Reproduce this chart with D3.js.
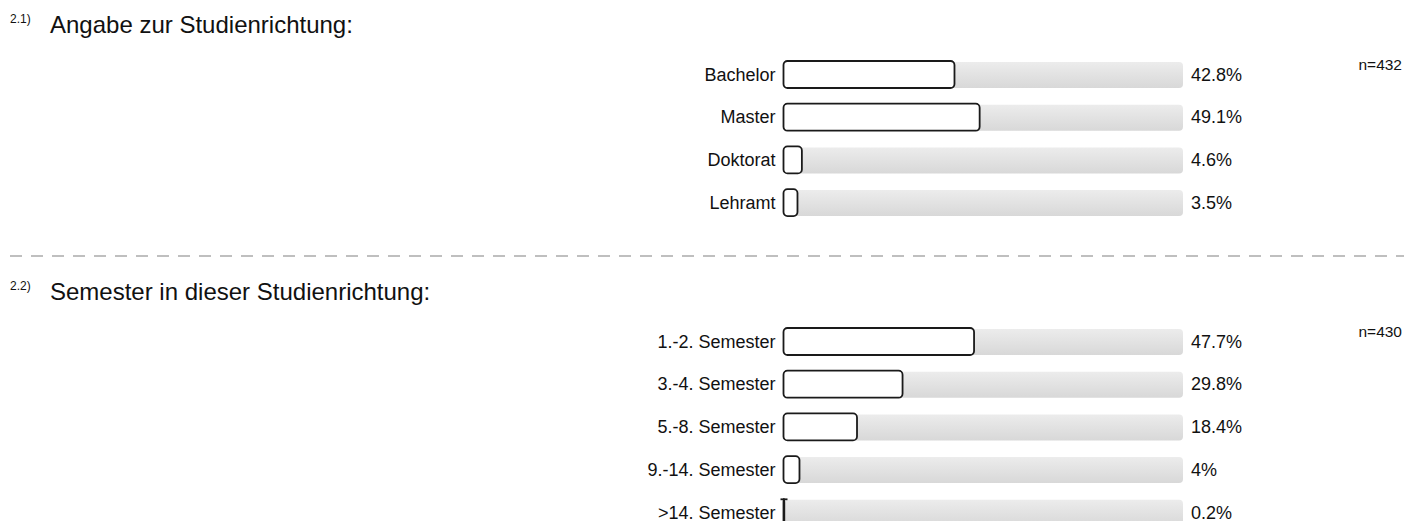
<!DOCTYPE html>
<html>
<head>
<meta charset="utf-8">
<script src="https://cdn.jsdelivr.net/npm/d3@7"></script>
<style>
  body { margin: 0; background: #fff; }
  svg { font-family: "Liberation Sans", Arial, sans-serif; }
</style>
</head>
<body>
<svg id="chart"></svg>
<script>
// question 2.1
var q1Number = "2.1)";
var q1Title = "Angabe zur Studienrichtung:";
var q1Categories = ["Bachelor", "Master", "Doktorat", "Lehramt"];
var q1Values = [42.8, 49.1, 4.6, 3.5];
var q1Labels = ["42.8%", "49.1%", "4.6%", "3.5%"];
var q1N = "n=432";

// question 2.2
var q2Number = "2.2)";
var q2Title = "Semester in dieser Studienrichtung:";
var q2Categories = ["1.-2. Semester", "3.-4. Semester", "5.-8. Semester", "9.-14. Semester", ">14. Semester"];
var q2Values = [47.7, 29.8, 18.4, 4, 0.2];
var q2Labels = ["47.7%", "29.8%", "18.4%", "4%", "0.2%"];
var q2N = "n=430";

var dimensions = {
    width: 1404,
    height: 521,
    sectionHeight: 267,
    barLeft: 783.5,
    barRight: 1183,
    firstBar: 61,
    step: 42.7,
    barHeight: 27
};

var svg = d3.select("#chart")
            .attr("width", dimensions.width)
            .attr("height", dimensions.height);

var defs = svg.append("defs");
var grad = defs.append("linearGradient")
               .attr("id", "bgGrad")
               .attr("x1", 0).attr("y1", 0).attr("x2", 0).attr("y2", 1);
grad.append("stop").attr("offset", "0%").attr("stop-color", "#ececec");
grad.append("stop").attr("offset", "100%").attr("stop-color", "#d8d8d8");

var xScale = d3.scaleLinear()
               .domain([0, 100])
               .range([dimensions.barLeft, dimensions.barRight]);

function drawSection(g, number, title, categories, values, labels, nText) {
    var pad = 1 - dimensions.barHeight / dimensions.step;
    var yScale = d3.scaleBand()
                   .domain(categories)
                   .range([dimensions.firstBar, dimensions.firstBar + dimensions.step * (categories.length - pad)])
                   .paddingInner(pad)
                   .paddingOuter(0);

    var rows = categories.map((c, i) => ({ cat: c, value: values[i], label: labels[i] }));

    // question number and title
    g.append("text")
        .attr("x", 10)
        .attr("y", 23)
        .style("font-size", "12px")
        .attr("fill", "#111")
        .text(number);

    g.append("text")
        .attr("x", 50)
        .attr("y", 33)
        .style("font-size", "24px")
        .attr("fill", "#111")
        .text(title);

    // grey background bars
    g.selectAll(".bg")
        .data(rows)
        .enter()
        .append("rect")
        .attr("class", "bg")
        .attr("x", xScale(0))
        .attr("y", d => yScale(d.cat) + 1)
        .attr("width", xScale(100) - xScale(0))
        .attr("height", yScale.bandwidth() - 1)
        .attr("rx", 4)
        .attr("fill", "url(#bgGrad)");

    // value bars
    g.selectAll(".bar")
        .data(rows)
        .enter()
        .append("rect")
        .attr("class", "bar")
        .attr("x", xScale(0))
        .attr("y", d => yScale(d.cat))
        .attr("width", d => xScale(d.value) - xScale(0))
        .attr("height", yScale.bandwidth())
        .attr("rx", 4)
        .attr("fill", "#fff")
        .attr("stroke", "#1a1a1a")
        .attr("stroke-width", 1.8);

    // very thin bars get a little cap at the top, like the original
    g.selectAll(".cap")
        .data(rows.filter(d => xScale(d.value) - xScale(0) < 2))
        .enter()
        .append("line")
        .attr("class", "cap")
        .attr("x1", xScale(0) - 3)
        .attr("x2", xScale(0) + 4)
        .attr("y1", d => yScale(d.cat) + 0.5)
        .attr("y2", d => yScale(d.cat) + 0.5)
        .attr("stroke", "#1a1a1a")
        .attr("stroke-width", 1.8);

    // category labels
    g.selectAll(".cat")
        .data(rows)
        .enter()
        .append("text")
        .attr("class", "cat")
        .attr("x", dimensions.barLeft - 8)
        .attr("y", d => yScale(d.cat) + yScale.bandwidth() / 2 + 6.2)
        .style("text-anchor", "end")
        .style("font-size", "18px")
        .attr("fill", "#111")
        .text(d => d.cat);

    // percent labels
    g.selectAll(".pct")
        .data(rows)
        .enter()
        .append("text")
        .attr("class", "pct")
        .attr("x", dimensions.barRight + 8)
        .attr("y", d => yScale(d.cat) + yScale.bandwidth() / 2 + 6.2)
        .style("font-size", "18px")
        .attr("fill", "#111")
        .text(d => d.label);

    // sample size
    g.append("text")
        .attr("x", 1402)
        .attr("y", dimensions.firstBar + 8.5)
        .style("text-anchor", "end")
        .style("font-size", "15.5px")
        .attr("fill", "#111")
        .text(nText);
}

drawSection(svg.append("g"), q1Number, q1Title, q1Categories, q1Values, q1Labels, q1N);

// dashed separator
svg.append("line")
    .attr("x1", 10)
    .attr("x2", dimensions.width)
    .attr("y1", 256)
    .attr("y2", 256)
    .attr("stroke", "#aaa")
    .attr("stroke-width", 1.5)
    .attr("stroke-dasharray", "12,9");

drawSection(svg.append("g").attr("transform", "translate(0," + dimensions.sectionHeight + ")"),
            q2Number, q2Title, q2Categories, q2Values, q2Labels, q2N);
</script>
</body>
</html>
